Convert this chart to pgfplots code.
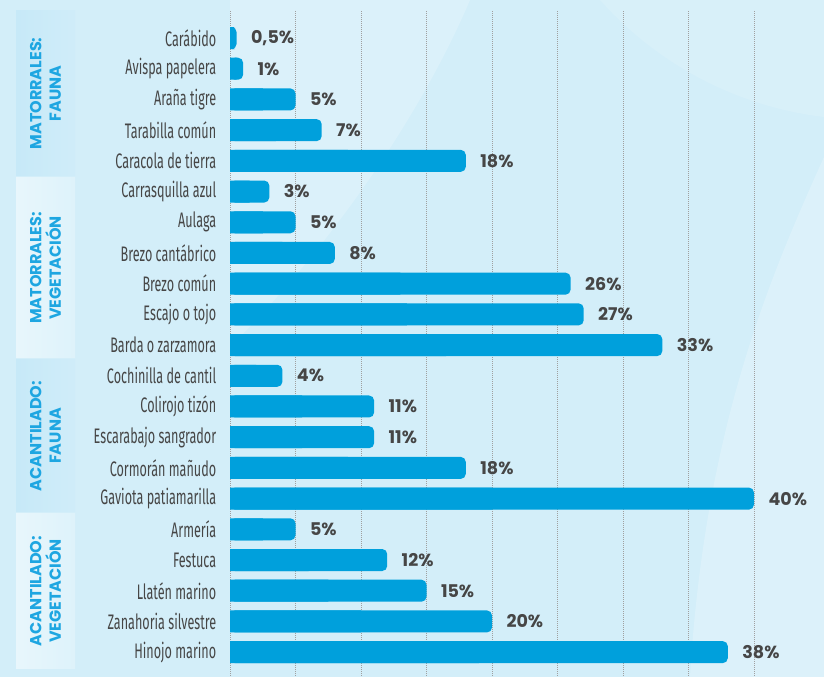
\documentclass[border=0pt]{standalone}
\usepackage{fontspec}
\setmainfont{Fira Sans}
\newfontfamily\condfont{Fira Sans}[FakeStretch=0.6]
\newfontfamily\valfont{Poppins}
\usepackage{pgfplots}
\usepackage{pgfplotstable}
\pgfplotsset{compat=1.18}

\definecolor{bgblue}{RGB}{211,238,249}
\definecolor{barblue}{RGB}{0,160,220}
\definecolor{txtgray}{RGB}{70,70,70}
\definecolor{grpblue}{RGB}{30,166,225}
\definecolor{paneldark}{RGB}{176,224,245}
\definecolor{panellight}{RGB}{226,244,251}

% row index, share of species (%)
\pgfplotstableread{
i v
0 0.5
1 1
2 5
3 7
4 18
5 3
6 5
7 8
8 26
9 27
10 33
11 4
12 11
13 11
14 18
15 40
16 5
17 12
18 15
19 20
20 38
}\datatable

\begin{document}
\begin{tikzpicture}
\useasboundingbox (0,0) rectangle (824pt,677pt);
\fill[bgblue] (0,0) rectangle (824pt,677pt);
% soft light swirls of the background
\fill[white, opacity=0.2] (470pt,677pt) .. controls (420pt,560pt) and (330pt,430pt) .. (230pt,330pt)
  -- (230pt,677pt) -- cycle;
\fill[white, opacity=0.22] (824pt,520pt) .. controls (770pt,400pt) and (705pt,250pt) .. (690pt,0pt)
  -- (824pt,0pt) -- cycle;
\fill[white, opacity=0.12] (600pt,677pt) .. controls (660pt,610pt) and (740pt,570pt) .. (824pt,560pt)
  -- (824pt,677pt) -- cycle;

% group panels
\shade[left color=paneldark!90!grpblue!60, right color=paneldark!60!white] (16pt,501pt) rectangle (75pt,666pt);
\shade[left color=panellight!80!white, right color=panellight!70!bgblue] (16pt,319pt) rectangle (75pt,499pt);
\shade[left color=paneldark!90!grpblue!60, right color=paneldark!60!white] (16pt,165pt) rectangle (75pt,317pt);
\shade[left color=panellight!80!white, right color=panellight!70!bgblue] (16pt,9pt) rectangle (75pt,163pt);

\begin{scope}[every node/.style={rotate=90, align=center, text=grpblue,
    font=\valfont\fontsize{16pt}{19.5pt}\selectfont\bfseries}]
\node at (45.5pt,583.5pt) {MATORRALES:\\FAUNA};
\node at (45.5pt,409pt) {MATORRALES:\\VEGETACIÓN};
\node at (45.5pt,241pt) {ACANTILADO:\\FAUNA};
\node at (45.5pt,86pt) {ACANTILADO:\\VEGETACIÓN};
\end{scope}

\begin{axis}[
  at={(230pt,0pt)}, anchor=south west,
  scale only axis, width=524pt, height=666pt,
  xbar, bar width=22pt, /pgf/bar shift=0pt,
  xmin=0, xmax=40,
  ymin=-0.88, ymax=20.81, y dir=reverse,
  axis line style={draw=none},
  xtick={5,10,...,40}, xticklabels={},
  xmajorgrids,
  major grid style={gray!75, line width=0.8pt, dash pattern=on 1pt off 1pt},
  extra x ticks={0}, extra x tick labels={},
  extra x tick style={grid style={txtgray, line width=1.1pt, dash pattern=on 3pt off 2.5pt}},
  tick style={draw=none},
  ytick={0,...,20},
  yticklabels={Carábido, Avispa papelera, Araña tigre, Tarabilla común, Caracola de tierra,
    Carrasquilla azul, Aulaga, Brezo cantábrico, Brezo común, Escajo o tojo, Barda o zarzamora,
    Cochinilla de cantil, Colirojo tizón, Escarabajo sangrador, Cormorán mañudo, Gaviota patiamarilla,
    Armería, Festuca, Llatén marino, Zanahoria silvestre, Hinojo marino},
  yticklabel style={font=\condfont\fontsize{21pt}{22pt}\selectfont, text=txtgray, xshift=-6pt},
  clip=false,
]
\addplot[fill=barblue, draw=none, rounded corners=5pt,
  point meta=x,
  nodes near coords={\pgfmathprintnumber[use comma, assume math mode=true]{\pgfplotspointmeta}\%},
  every node near coord/.style={anchor=west, xshift=11pt, text=txtgray,
    font=\valfont\fontsize{17.5pt}{18pt}\selectfont\bfseries}]
  table[x=v, y=i] {\datatable};
\addplot[fill=barblue, draw=none, forget plot]
  table[x expr=\thisrow{v}/2, y=i] {\datatable};
\end{axis}
\end{tikzpicture}
\end{document}
